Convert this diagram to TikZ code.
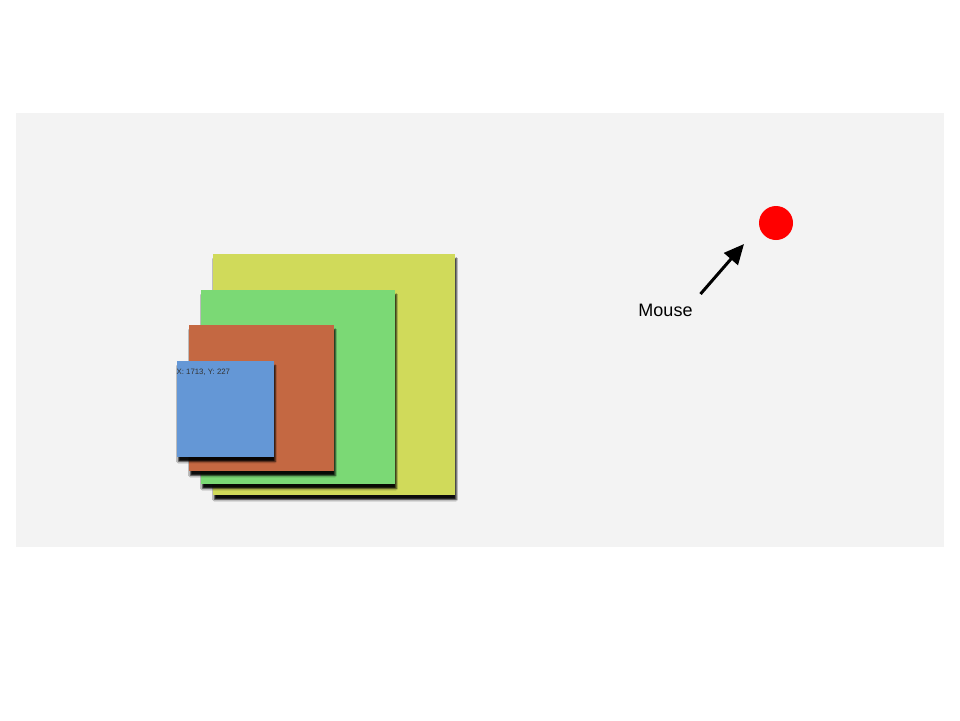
\documentclass[tikz,border=0pt]{standalone}
\usepackage{fontspec}
\setmainfont{Liberation Sans}
\usetikzlibrary{arrows.meta,shadows.blur}
\definecolor{panel}{HTML}{F3F3F3}
\definecolor{cyel}{HTML}{D0DA5A}
\definecolor{cgrn}{HTML}{7BD975}
\definecolor{cred}{HTML}{C46842}
\definecolor{cblu}{HTML}{6497D6}
\begin{document}
\begin{tikzpicture}[x=1pt,y=-1pt,
  box/.style={rectangle,inner sep=0pt,anchor=north west,
    blur shadow={shadow xshift=1pt,shadow yshift=-4.5pt,shadow blur steps=4,shadow blur radius=1.5pt,shadow opacity=95}},
  lbl/.style={font=\fontsize{18}{20}\selectfont,text=black}]
\useasboundingbox (0,0) rectangle (960,720);
\fill[white] (0,0) rectangle (960,720);
\fill[panel] (16,113) rectangle (944,547);
\node[box,fill=cyel,minimum width=242pt,minimum height=241pt] (yel) at (213,254) {};
\node[box,fill=cgrn,minimum width=194pt,minimum height=194pt] (grn) at (201,290) {};
\node[box,fill=cred,minimum width=145pt,minimum height=146pt] (red) at (189,325) {};
\node[box,fill=cblu,minimum width=97pt,minimum height=96pt] (blu) at (177,361) {};
\node[anchor=north west,inner sep=0pt,font=\fontsize{7.8}{8}\selectfont,text=black!80] (coords) at (176.5,368.5) {X: 1713, Y: 227};
\node[circle,fill=red,minimum size=34pt,inner sep=0pt] (dot) at (776,223) {};
\node[lbl,anchor=base] (mouse) at (665.5,316) {Mouse};
\coordinate (tail) at (700.5,294);
\coordinate (tip) at (744,244);
\draw[line width=3pt,-{Triangle[length=20pt,width=18pt]}] (tail) -- (tip);
\end{tikzpicture}
\end{document}
